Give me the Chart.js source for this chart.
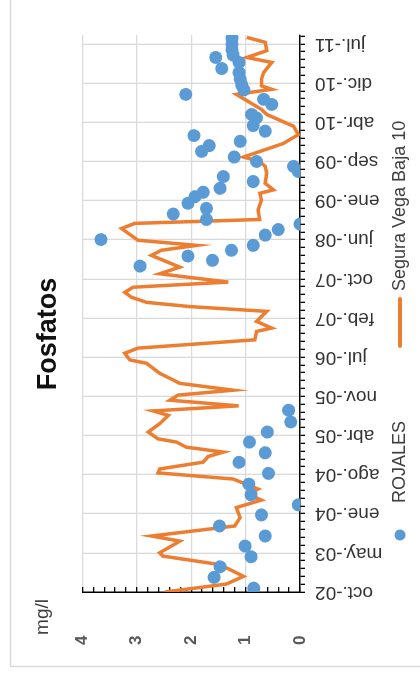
<!DOCTYPE html>
<html>
<head>
<meta charset="utf-8">
<script src="https://cdn.jsdelivr.net/npm/chart.js@4.4.1/dist/chart.umd.min.js"></script>
<style>
  html, body { margin: 0; padding: 0; background: #fff; overflow: hidden; }
  #wrap { position: absolute; left: 0; top: 0; width: 675px; height: 420px;
          transform-origin: 0 0; transform: translate(0px, 675px) rotate(-90deg); }
</style>
</head>
<body>
<div id="wrap"><canvas id="c" width="675" height="420"></canvas></div>
<script>
// ---- data (x = days since 1 Oct 2002) ----
const xTickLabels = ['oct.-02','may.-03','ene.-04','ago.-04','abr.-05','nov.-05','jul.-06','feb.-07','oct.-07','jun.-08','ene.-09','sep.-09','abr.-10','dic.-10','jul.-11'];
const yTickLabels = ['0','1','2','3','4'];

const seguraDays = [0,47,92,161,211,230,299,329,388,437,496,540,575,605,664,700,723,763,796,822,851,881,900,940,989,1038,1064,1094,1127,1157,1186,1226,1255,1285,1344,1364,1403,1433,1482,1531,1551,1590,1649,1677,1702,1732,1761,1791,1821,1870,1909,1978,2008,2037,2067,2136,2166,2189,2244,2303,2343,2363,2402,2461,2501,2530,2556,2635,2688,2737,2806,2836,2924,2954,2974,3013,3052,3112,3141,3181,3230,3259];
const seguraValues = [2.48,1.35,1.04,1.47,2.52,2.58,2.21,2.73,1.20,1.10,1.17,0.71,0.95,0.77,1.23,2.61,2.58,1.78,1.69,1.41,2.09,2.27,2.61,2.79,2.58,2.42,2.70,1.13,2.39,2.24,1.23,2.21,2.39,2.58,2.82,3.13,3.22,2.98,0.83,0.80,0.52,0.80,0.61,2.02,2.82,3.10,3.22,3.07,1.32,2.58,2.21,2.73,2.55,1.90,2.98,3.28,3.04,0.74,0.77,0.71,0.74,0.49,0.64,0.61,0.64,0.74,1.04,0.31,0.03,0.12,0.61,0.71,1.17,0.52,0.71,0.71,0.67,0.52,0.98,0.61,0.64,0.98];

const rojalesDays = [23,86,148,207,270,329,388,453,512,571,634,697,762,818,881,940,999,1068,1915,1949,1974,2008,2037,2071,2097,2130,2162,2189,2221,2254,2284,2323,2349,2372,2412,2441,2471,2501,2530,2556,2589,2623,2648,2682,2708,2741,2786,2806,2865,2895,2924,2950,2978,3013,3052,3076,3112,3141,3155,3186,3220,3254];
const rojalesValues = [0.85,1.58,1.47,0.90,1.01,0.64,1.48,0.71,0.03,0.90,0.94,0.58,1.12,0.64,0.93,0.60,0.17,0.21,2.94,1.61,2.06,1.26,0.86,3.66,0.64,0.40,0.00,1.72,2.33,1.72,2.06,1.93,1.78,1.47,0.86,1.41,0.03,0.12,0.80,1.21,1.81,1.67,1.10,1.95,0.64,0.86,0.80,0.89,0.52,0.67,2.10,1.03,1.07,1.10,1.12,1.44,1.12,1.55,1.23,1.25,1.25,1.25];

const MAJOR = 230, MINOR = 46, XMAX = 3273;
const BLUE = '#5B9BD5', ORANGE = '#ED7D31';
const FONT = "'Liberation Sans', Arial, sans-serif";

const BOXW = 116;
function dotImg() {
  const c = document.createElement('canvas'); c.width = BOXW; c.height = 14;
  const g = c.getContext('2d'); g.fillStyle = BLUE; g.beginPath(); g.arc(BOXW - 23, 7, 5.5, 0, Math.PI * 2); g.fill();
  return c;
}
function lineImg() {
  const c = document.createElement('canvas'); c.width = BOXW + 6; c.height = 6;
  const g = c.getContext('2d'); g.strokeStyle = ORANGE; g.lineWidth = 4; g.lineCap = 'round';
  g.beginPath(); g.moveTo(BOXW - 45 + 2, 3); g.lineTo(BOXW + 6 - 2, 3); g.stroke();
  return c;
}
const markers = [dotImg(), lineImg()];

const extras = {
  id: 'extras',
  beforeDraw(chart) {
    const ctx = chart.ctx;
    ctx.save();
    ctx.fillStyle = '#fff'; ctx.fillRect(0, 0, chart.width, chart.height);
    ctx.strokeStyle = '#d9d9d9'; ctx.lineWidth = 1.5;
    ctx.beginPath(); ctx.moveTo(8.5, 420); ctx.lineTo(8.5, 10.5); ctx.lineTo(675, 10.5); ctx.stroke();
    ctx.restore();
  },
  afterDraw(chart) {
    const ctx = chart.ctx;
    ctx.save();
    ctx.fillStyle = '#404040'; ctx.font = '19px ' + FONT;
    ctx.textAlign = 'center'; ctx.textBaseline = 'alphabetic';
    ctx.fillText('mg/l', 58, 48);
    ctx.restore();
  }
};

new Chart(document.getElementById('c'), {
  type: 'scatter',
  data: {
    datasets: [
      { label: 'ROJALES', data: rojalesDays.map((d, i) => ({ x: d, y: rojalesValues[i] })),
        backgroundColor: BLUE, borderColor: BLUE, pointRadius: 6.5, pointBorderWidth: 0, pointHoverRadius: 6.5 },
      { label: 'Segura Vega Baja 10', data: seguraDays.map((d, i) => ({ x: d, y: seguraValues[i] })),
        showLine: true, borderColor: ORANGE, backgroundColor: ORANGE, borderWidth: 3.5, pointRadius: 0, tension: 0 }
    ]
  },
  options: {
    responsive: false, animation: false, devicePixelRatio: 1,
    layout: { padding: { left: 42, right: 35, top: 0, bottom: 1 } },
    plugins: {
      tooltip: { enabled: false },
      title: { display: true, text: 'Fosfatos', color: '#111',
               font: { family: FONT, size: 27, weight: 'bold', lineHeight: 1.2 }, padding: { top: 32, bottom: 18 } },
      legend: {
        position: 'bottom', align: 'start',
        labels: {
          usePointStyle: true, pointStyleWidth: BOXW, padding: 5, color: '#404040',
          font: { family: FONT, size: 18 },
          generateLabels(chart) {
            return chart.data.datasets.map((ds, i) => ({
              text: ds.label, datasetIndex: i, pointStyle: markers[i], fillStyle: 'transparent',
              strokeStyle: 'transparent', lineWidth: 0, hidden: false, fontColor: '#404040'
            }));
          }
        }
      }
    },
    scales: {
      x: {
        type: 'linear', position: 'bottom', min: 0, max: XMAX,
        afterBuildTicks(s) { const t = []; for (let v = 0; v <= XMAX; v += MINOR) t.push({ value: v }); s.ticks = t; },
        afterFit(s) { s.height = 86; },
        ticks: { autoSkip: false, minRotation: 90, maxRotation: 90, padding: 10, color: '#333',
                 font: { family: FONT, size: 19 },
                 callback: (v, i) => (i % 5 === 0 ? xTickLabels[i / 5] : '') },
        grid: { color: (c) => (c.index % 5 === 0 && c.index > 0 ? '#d9d9d9' : 'rgba(0,0,0,0)'),
                tickColor: '#000', tickLength: 5, lineWidth: 1.3 },
        border: { color: '#000', width: 1.5 }
      },
      y: {
        type: 'linear', position: 'left', min: 0, max: 4,
        afterBuildTicks(s) { const t = []; for (let i = 0; i <= 20; i++) t.push({ value: i / 5 }); s.ticks = t; },
        afterFit(s) { s.width = 41; },
        ticks: { autoSkip: false, mirror: true, padding: -53, color: '#595959',
                 font: { family: FONT, size: 17, weight: 'bold' },
                 callback: (v, i) => (i % 5 === 0 ? yTickLabels[i / 5] : '') },
        grid: { color: (c) => (c.index % 5 === 0 && c.index > 0 ? '#d9d9d9' : 'rgba(0,0,0,0)'),
                tickColor: '#000', tickLength: -5, lineWidth: 1.3 },
        border: { color: '#000', width: 1.5 }
      }
    }
  },
  plugins: [extras]
});
</script>
</body>
</html>
